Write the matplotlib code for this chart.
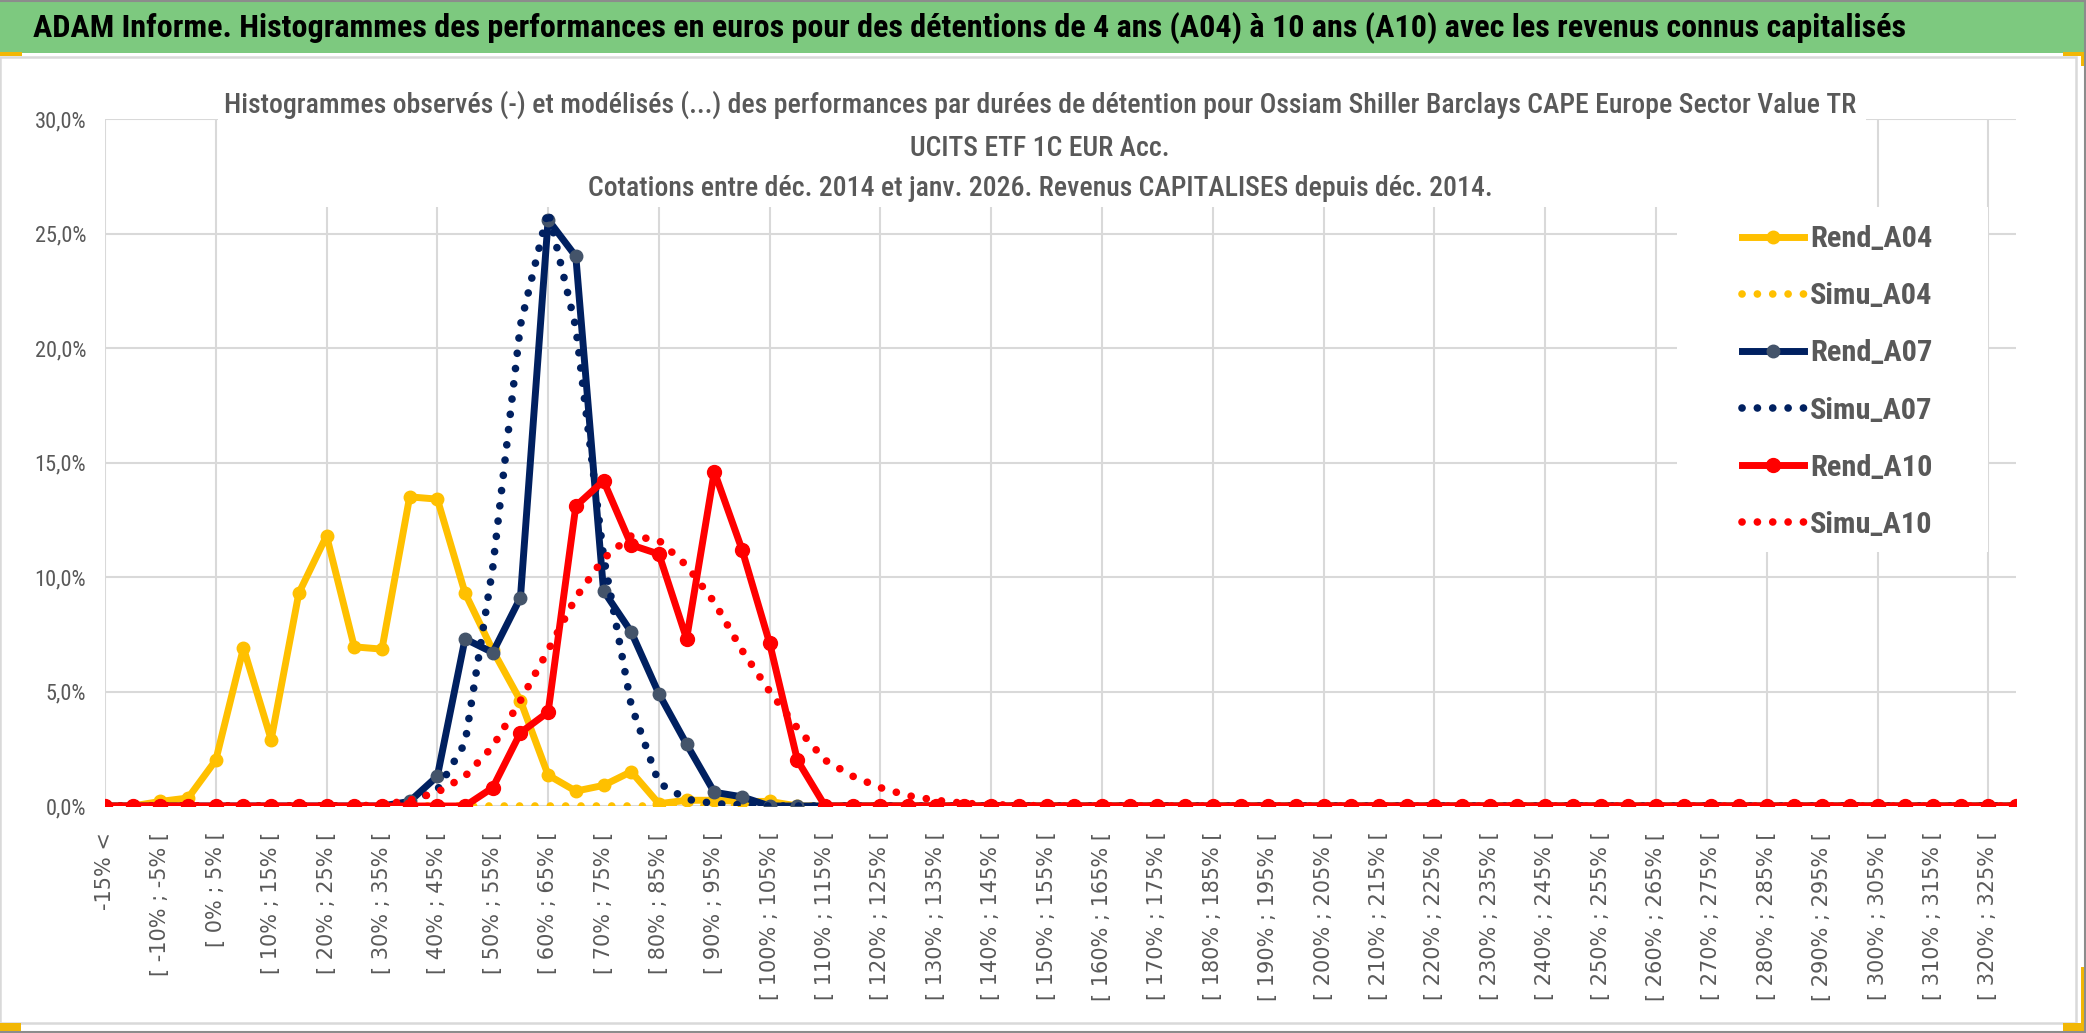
import matplotlib
matplotlib.use('Agg')
import matplotlib.pyplot as plt
from matplotlib import font_manager
from matplotlib.patches import Rectangle
from matplotlib.lines import Line2D

W, H = 2086, 1033

# categories: "-15% <", then 5% wide buckets up to [320% ; 325%[, then the last bucket
categories = ['-15% <'] + [f'[ {a}% ; {a + 5}% [' for a in range(-15, 325, 5)] + ['>= 325%']

# values in % (70 buckets each)
rend_a04 = [0, 0, 0.2, 0.35, 2.0, 6.9, 2.9, 9.3, 11.8, 6.95,
            6.85, 13.5, 13.4, 9.3, 6.8, 4.6, 1.35, 0.65, 0.9, 1.5,
            0.1, 0.25, 0.25, 0.2, 0.2, 0, 0, 0, 0, 0,
            0, 0, 0, 0, 0, 0, 0, 0, 0, 0,
            0, 0, 0, 0, 0, 0, 0, 0, 0, 0,
            0, 0, 0, 0, 0, 0, 0, 0, 0, 0,
            0, 0, 0, 0, 0, 0, 0, 0, 0, 0]
simu_a04 = [0, 0, 0, 0, 0, 0, 0, 0, 0, 0,
            0, 0, 0, 0, 0, 0, 0, 0, 0, 0,
            0, 0, 0, 0, 0, 0, 0, 0, 0, 0,
            0, 0, 0, 0, 0, 0, 0, 0, 0, 0,
            0, 0, 0, 0, 0, 0, 0, 0, 0, 0,
            0, 0, 0, 0, 0, 0, 0, 0, 0, 0,
            0, 0, 0, 0, 0, 0, 0, 0, 0, 0]
rend_a07 = [0, 0, 0, 0, 0, 0, 0, 0, 0, 0,
            0, 0.2, 1.3, 7.3, 6.7, 9.1, 25.6, 24.0, 9.4, 7.6,
            4.9, 2.7, 0.6, 0.4, 0, 0, 0, 0, 0, 0,
            0, 0, 0, 0, 0, 0, 0, 0, 0, 0,
            0, 0, 0, 0, 0, 0, 0, 0, 0, 0,
            0, 0, 0, 0, 0, 0, 0, 0, 0, 0,
            0, 0, 0, 0, 0, 0, 0, 0, 0, 0]
simu_a07 = [0, 0, 0, 0, 0, 0, 0, 0, 0, 0,
            0, 0.15, 0.7, 2.75, 10.4, 21.0, 26.0, 20.9, 10.9, 4.4,
            1.0, 0.3, 0.1, 0.05, 0, 0, 0, 0, 0, 0,
            0, 0, 0, 0, 0, 0, 0, 0, 0, 0,
            0, 0, 0, 0, 0, 0, 0, 0, 0, 0,
            0, 0, 0, 0, 0, 0, 0, 0, 0, 0,
            0, 0, 0, 0, 0, 0, 0, 0, 0, 0]
rend_a10 = [0, 0, 0, 0, 0, 0, 0, 0, 0, 0,
            0, 0, 0, 0, 0.8, 3.2, 4.1, 13.1, 14.2, 11.4,
            11.0, 7.3, 14.6, 11.2, 7.1, 2.0, 0, 0, 0, 0,
            0, 0, 0, 0, 0, 0, 0, 0, 0, 0,
            0, 0, 0, 0, 0, 0, 0, 0, 0, 0,
            0, 0, 0, 0, 0, 0, 0, 0, 0, 0,
            0, 0, 0, 0, 0, 0, 0, 0, 0, 0]
simu_a10 = [0, 0, 0, 0, 0, 0, 0, 0, 0, 0,
            0.05, 0.25, 0.6, 1.3, 2.6, 4.6, 6.8, 9.1, 10.8, 11.8,
            11.6, 10.5, 8.9, 6.8, 5.0, 3.4, 2.0, 1.3, 0.8, 0.45,
            0.25, 0.12, 0.06, 0.03, 0, 0, 0, 0, 0, 0,
            0, 0, 0, 0, 0, 0, 0, 0, 0, 0,
            0, 0, 0, 0, 0, 0, 0, 0, 0, 0,
            0, 0, 0, 0, 0, 0, 0, 0, 0, 0]

y_ticks = [0, 5, 10, 15, 20, 25, 30]

title = ("ADAM Informe. Histogrammes des performances en euros pour des détentions "
         "de 4 ans (A04) à 10 ans (A10) avec les revenus connus capitalisés")
sub1 = ("Histogrammes observés (-) et modélisés (...) des performances par durées de "
        "détention pour Ossiam Shiller Barclays CAPE Europe Sector Value TR")
sub2 = "UCITS ETF 1C EUR Acc."
sub3 = "Cotations entre déc. 2014 et janv. 2026. Revenus CAPITALISES depuis déc. 2014."

YELLOW = '#FFC000'
NAVY = '#002060'
NAVY_MK = '#44546A'
RED = '#FF0000'
GREY = '#595959'
GRID = '#D9D9D9'

# pick a narrow font (Calibri-like look)
entries = font_manager.fontManager.ttflist
names = {f.name for f in entries}
stretch = 'normal'
COND = None
for cand in ['Roboto Condensed', 'Liberation Sans Narrow', 'Open Sans Condensed']:
    if cand in names:
        COND = cand
        break
if COND is None:
    COND = 'DejaVu Sans'
    stretch = 'condensed'

fig = plt.figure(figsize=(W / 100, H / 100), dpi=100)
renderer = fig.canvas.get_renderer()


def fx(x):
    return x / W


def fy(y):
    return 1 - y / H


def fit(t, width):
    w = t.get_window_extent(renderer).width
    t.set_fontsize(t.get_fontsize() * width / w)
    return t.get_fontsize()


# frame and header bar
fig.add_artist(Rectangle((0, fy(53)), 1, 52 / H, transform=fig.transFigure,
                         facecolor='#7DC97F', edgecolor='none', zorder=0))
fig.add_artist(Line2D([0, 1], [fy(0.7), fy(0.7)], transform=fig.transFigure,
                      color='#8C8C8C', lw=1.5))
fig.add_artist(Rectangle((0, fy(1023)), fx(2076), (1023 - 57) / H, transform=fig.transFigure,
                         facecolor='none', edgecolor=GRID, lw=1.8))
fig.add_artist(Line2D([fx(2085), fx(2085)], [0, 1], transform=fig.transFigure,
                      color='#8C8C8C', lw=1.5))
fig.add_artist(Line2D([0, 1], [fy(1032), fy(1032)], transform=fig.transFigure,
                      color='#8C8C8C', lw=1.5))
for (x0, y0, w, h) in [(0, 52, 22, 4), (2063, 52, 23, 4), (2081, 52, 4, 14),
                       (0, 1023, 21, 8), (2063, 1023, 23, 8), (2081, 967, 4, 64)]:
    fig.add_artist(Rectangle((fx(x0), fy(y0 + h)), w / W, h / H, transform=fig.transFigure,
                             facecolor='#F2B705', edgecolor='none'))

t = fig.text(fx(33), fy(28), title, ha='left', va='center', fontsize=26,
             fontweight='bold', family=COND, fontstretch=stretch, color='black')
fit(t, 1876)

s1 = fig.text(fx(1040), fy(105), sub1, ha='center', va='center', fontsize=18,
              family=COND, fontstretch=stretch, fontweight='medium', color=GREY)
fs_sub = fit(s1, 1633)
fig.text(fx(1040), fy(148), sub2, ha='center', va='center', fontsize=fs_sub,
         family=COND, fontstretch=stretch, fontweight='medium', color=GREY)
fig.text(fx(1040), fy(188), sub3, ha='center', va='center', fontsize=fs_sub,
         family=COND, fontstretch=stretch, fontweight='medium', color=GREY)

# font sizes for tick labels and legend
tmp = fig.text(0, 0, '30,0%', fontsize=16, family=COND, fontstretch=stretch)
fs_y = fit(tmp, 49) * 1.06
tmp.remove()
tmp = fig.text(0, 0, 'Rend_A04', fontsize=20, family=COND, fontstretch=stretch, fontweight='bold')
fs_leg = fit(tmp, 113) * 1.08
tmp.remove()

ax = fig.add_axes([fx(105), fy(806), (2016 - 105) / W, (806 - 119) / H])
x = list(range(len(categories)))

dots = (0, (0.01, 2.0))
ax.plot(x, rend_a04, color=YELLOW, lw=5, marker='o', ms=9, mfc=YELLOW, mec=YELLOW,
        solid_joinstyle='round', zorder=3, label='Rend_A04')
ax.plot(x, simu_a04, color=YELLOW, lw=5.5, linestyle=dots, dash_capstyle='round',
        zorder=4, label='Simu_A04')
ax.plot(x, rend_a07, color=NAVY, lw=5, marker='o', ms=9, mfc=NAVY_MK, mec=NAVY_MK,
        solid_joinstyle='round', zorder=5, label='Rend_A07')
ax.plot(x, simu_a07, color=NAVY, lw=5.5, linestyle=dots, dash_capstyle='round',
        zorder=6, label='Simu_A07')
ax.plot(x, rend_a10, color=RED, lw=5, marker='o', ms=10, mfc=RED, mec=RED,
        solid_joinstyle='round', zorder=7, label='Rend_A10')
ax.plot(x, simu_a10, color=RED, lw=5.5, linestyle=dots, dash_capstyle='round',
        zorder=8, label='Simu_A10')

ax.set_xlim(0, len(categories) - 1)
ax.set_ylim(0, 30)
ax.set_xticks(x[::2])
ax.set_xticklabels(categories[::2], rotation=90, fontsize=15, color=GREY, family='DejaVu Sans')
ax.set_yticks(y_ticks)
ax.set_yticklabels([f'{v:.1f}'.replace('.', ',') + '%' for v in y_ticks],
                   fontsize=fs_y, color=GREY, family=COND, fontstretch=stretch)
ax.tick_params(axis='x', length=0, pad=18.5)
ax.tick_params(axis='y', length=0, pad=13.5)
for sp in ax.spines.values():
    sp.set_visible(False)
ax.set_axisbelow(True)
ax.yaxis.grid(True, color=GRID, lw=1.5)
ax.vlines(x[::4], 0, 30, color=GRID, lw=1.5, zorder=0.5)

# white boxes behind the title and the legend hide the gridlines
ax.add_artist(Rectangle((fx(218), fy(207)), (1866 - 218) / W, (207 - 110) / H,
                        transform=fig.transFigure, facecolor='white', edgecolor='none',
                        zorder=1, clip_on=False))
ax.add_artist(Rectangle((fx(1677), fy(552)), (1988 - 1677) / W, (552 - 207) / H,
                        transform=fig.transFigure, facecolor='white', edgecolor='none',
                        zorder=1, clip_on=False))

fs_px = fs_leg * 100 / 72
leg = ax.legend(loc='upper left', bbox_to_anchor=(fx(1742), fy(244 - 0.62 * fs_px)),
                bbox_transform=fig.transFigure, frameon=False, borderpad=0, borderaxespad=0,
                handlelength=62 / fs_px, handletextpad=6 / fs_px,
                labelspacing=(58 - 0.95 * fs_px) / fs_px,
                prop={'family': COND, 'stretch': stretch, 'weight': 'bold', 'size': fs_leg},
                labelcolor=GREY)
leg.set_zorder(10)

fig.savefig('out.png', dpi=100)
